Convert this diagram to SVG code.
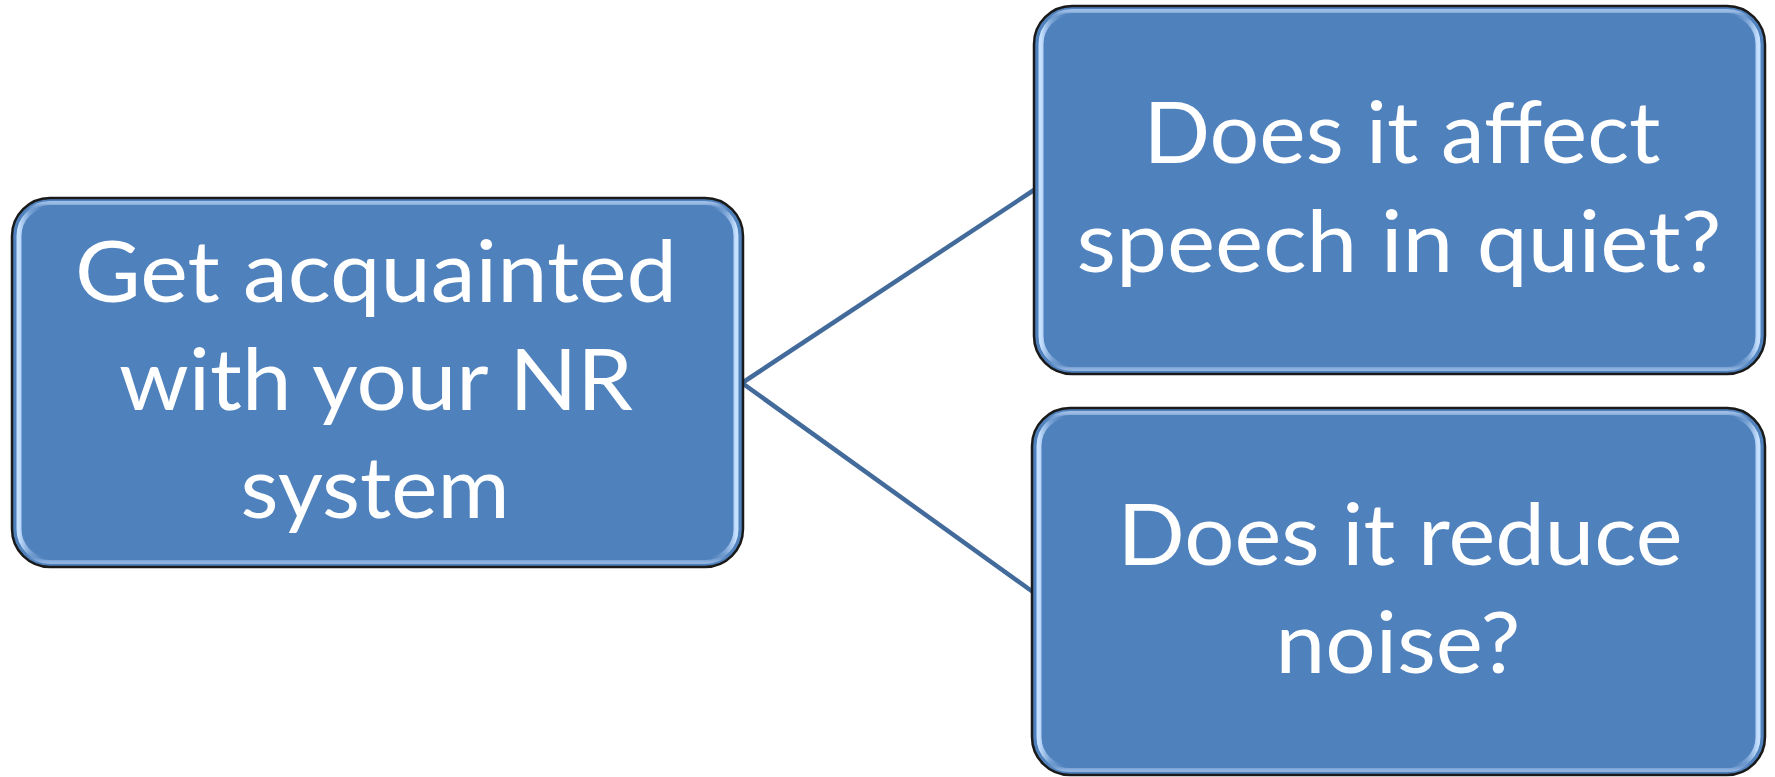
<svg xmlns="http://www.w3.org/2000/svg" width="1775" height="777" viewBox="0 0 1775 777">
  <defs>
    <linearGradient id="edgeGlow" x1="0" y1="0" x2="1" y2="0">
      <stop offset="0" stop-color="#c6e0ff"/>
      <stop offset="0.04" stop-color="#4f81bd" stop-opacity="0"/>
      <stop offset="0.96" stop-color="#4f81bd" stop-opacity="0"/>
      <stop offset="1" stop-color="#c6e0ff"/>
    </linearGradient>
    <linearGradient id="topBottom" x1="0" y1="0" x2="0" y2="1">
      <stop offset="0" stop-color="#9dbde6"/>
      <stop offset="0.03" stop-color="#4f81bd" stop-opacity="0"/>
      <stop offset="0.97" stop-color="#4f81bd" stop-opacity="0"/>
      <stop offset="1" stop-color="#8fb2df"/>
    </linearGradient>
  </defs>
  <style>
    .box { fill: #4f81bd; stroke: #1a1a1a; stroke-width: 2.5; }
    .glow { fill: none; stroke: url(#edgeGlow); stroke-width: 5; }
    .glow2 { fill: none; stroke: url(#topBottom); stroke-width: 4; }
    .label { font-family: Lato, "Open Sans", "Liberation Sans", sans-serif; font-size: 85px; fill: #ffffff; text-anchor: middle; }
    .link { stroke: #426a9a; stroke-width: 4.5; fill: none; }
  </style>
  <rect width="1775" height="777" fill="#ffffff"/>

  <g id="connectors">
    <line class="link" x1="742" y1="383" x2="1034" y2="190"/>
    <line class="link" x1="742" y1="383" x2="1033" y2="592"/>
  </g>

  <g id="node-acquainted">
    <rect class="box" x="12" y="198" width="731" height="369" rx="38"/>
    <rect class="glow" x="19" y="205" width="717" height="355" rx="31"/>
    <rect class="glow2" x="17" y="203" width="721" height="359" rx="33"/>
    <text class="label" x="376" y="302" textLength="602" lengthAdjust="spacingAndGlyphs">Get acquainted</text>
    <text class="label" x="376" y="410" textLength="514" lengthAdjust="spacingAndGlyphs">with your NR</text>
    <text class="label" x="375" y="518" textLength="269" lengthAdjust="spacingAndGlyphs">system</text>
  </g>

  <g id="node-quiet">
    <rect class="box" x="1034" y="6" width="731" height="368" rx="38"/>
    <rect class="glow" x="1041" y="13" width="717" height="354" rx="31"/>
    <rect class="glow2" x="1039" y="11" width="721" height="358" rx="33"/>
    <text class="label" x="1402" y="163" textLength="517" lengthAdjust="spacingAndGlyphs">Does it affect</text>
    <text class="label" x="1399" y="272" textLength="645" lengthAdjust="spacingAndGlyphs">speech in quiet?</text>
  </g>

  <g id="node-noise">
    <rect class="box" x="1032" y="408" width="733" height="367" rx="38"/>
    <rect class="glow" x="1039" y="415" width="719" height="353" rx="31"/>
    <rect class="glow2" x="1037" y="413" width="723" height="357" rx="33"/>
    <text class="label" x="1400" y="565" textLength="565" lengthAdjust="spacingAndGlyphs">Does it reduce</text>
    <text class="label" x="1398" y="673" textLength="245" lengthAdjust="spacingAndGlyphs">noise?</text>
  </g>
</svg>
